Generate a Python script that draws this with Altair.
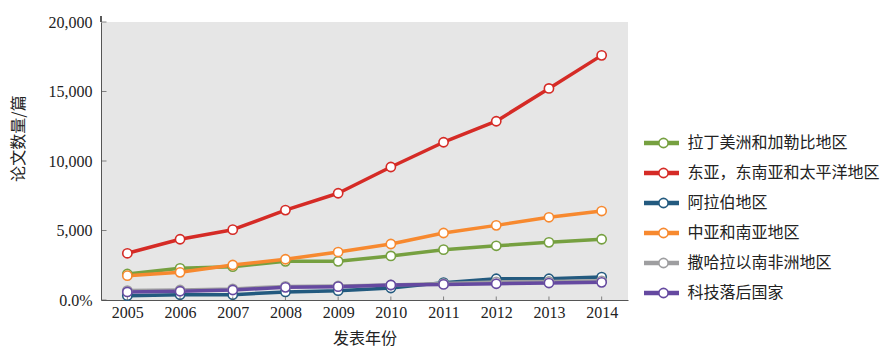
import altair as alt
import pandas as pd

years = ["2005", "2006", "2007", "2008", "2009", "2010", "2011", "2012", "2013", "2014"]
series = ["拉丁美洲和加勒比地区", "东亚，东南亚和太平洋地区", "阿拉伯地区",
          "中亚和南亚地区", "撒哈拉以南非洲地区", "科技落后国家"]
colors = ["#76a040", "#d52b26", "#235a7f", "#f7892f", "#9e9ea0", "#6549a0"]

latam = [1870, 2280, 2400, 2780, 2780, 3170, 3620, 3900, 4150, 4370]
east_asia = [3360, 4370, 5060, 6470, 7680, 9570, 11350, 12860, 15220, 17600]
arab = [310, 380, 380, 580, 670, 860, 1250, 1530, 1530, 1650]
south_asia = [1750, 1990, 2520, 2930, 3450, 4030, 4820, 5370, 5950, 6400]
subsahara = [680, 720, 800, 980, 1010, 1080, 1180, 1300, 1330, 1380]
ldc = [580, 630, 720, 910, 960, 1080, 1120, 1170, 1220, 1270]

y_ticks = [0, 5000, 10000, 15000, 20000]

values = [latam, east_asia, arab, south_asia, subsahara, ldc]
rows = []
for s, vals in zip(series, values):
    for y, v in zip(years, vals):
        rows.append({"year": y, "series": s, "value": v})
df = pd.DataFrame(rows)

W, H = 527, 278
FONT_CN = "Noto Sans CJK SC"
FONT_NUM = "Liberation Serif"

x_scale = alt.Scale(type="point", padding=0.5, domain=years)
y_scale = alt.Scale(domain=[0, 20000], nice=False)

x_enc = alt.X("year:O", scale=x_scale,
              axis=alt.Axis(title="发表年份", labelAngle=0, ticks=False, labelPadding=4,
                            titleX=W / 2, titleY=38, titleAlign="center",
                            titleBaseline="middle"))
y_enc = alt.Y("value:Q", scale=y_scale,
              axis=alt.Axis(title="论文数量/篇", values=y_ticks, ticks=False, grid=False,
                            labelPadding=9,
                            labelExpr="datum.value == 0 ? '0.0%' : format(datum.value, ',')",
                            titleX=-83, titleY=116, titleAngle=-90, titleAlign="center",
                            titleBaseline="middle"))

base = alt.Chart(df)

lines = base.mark_line(strokeWidth=3.5, strokeCap="round", strokeJoin="round").encode(
    x=x_enc,
    y=y_enc,
    color=alt.Color("series:N", scale=alt.Scale(domain=series, range=colors),
                    legend=alt.Legend(title=None, orient="none", legendX=540.5, legendY=106,
                                      symbolType="stroke", symbolSize=1225,
                                      symbolStrokeWidth=4.5, clipHeight=30, rowPadding=0,
                                      labelOffset=6, labelFont=FONT_CN, labelFontSize=16,
                                      labelColor="#222", labelLimit=300, padding=0)),
    order=alt.Order("year:O"),
)

points = base.mark_point(filled=True, fill="white", size=85, strokeWidth=1.6, opacity=1).encode(
    x=alt.X("year:O", scale=x_scale),
    y=alt.Y("value:Q", scale=y_scale),
    stroke=alt.Stroke("series:N", scale=alt.Scale(domain=series, range=colors),
                      legend=alt.Legend(title=None, orient="none", legendX=554.5, legendY=106,
                                        symbolType="circle", symbolSize=85,
                                        symbolStrokeWidth=1.6, symbolFillColor="white",
                                        clipHeight=30, rowPadding=0, labelExpr="''",
                                        labelFontSize=16, padding=0)),
)

tick_df = pd.DataFrame({"value": y_ticks})
yticks = alt.Chart(tick_df).mark_tick(color="#555", thickness=1, size=5).encode(
    y=alt.Y("value:Q", scale=y_scale),
    x=alt.value(3),
)
xtick_df = pd.DataFrame({"year": years})
xticks = alt.Chart(xtick_df).mark_tick(color="#555", thickness=1, size=7).encode(
    x=alt.X("year:O", scale=x_scale),
    y=alt.value(H - 3.5),
)
axis_ext = alt.Chart(tick_df).mark_rule(color="#555", strokeWidth=1).encode(
    x=alt.value(0), y=alt.value(-6), y2=alt.value(0)
)

chart = alt.layer(lines, points, yticks, xticks, axis_ext).resolve_legend(
    color="independent", stroke="independent"
).properties(
    width=W, height=H,
    autosize=alt.AutoSizeParams(type="none"),
    padding={"left": 101, "top": 22, "right": 265, "bottom": 53},
    background="white",
).configure_view(
    fill="#e6e6e6", stroke=None
).configure_axis(
    domainColor="#555", domainWidth=1, labelFont=FONT_NUM, labelFontSize=16,
    labelColor="#222", titleFont=FONT_CN, titleFontSize=16, titleFontWeight="normal",
    titleColor="#222"
)

chart.save("out.html", embed_options={"renderer": "svg", "actions": False})
